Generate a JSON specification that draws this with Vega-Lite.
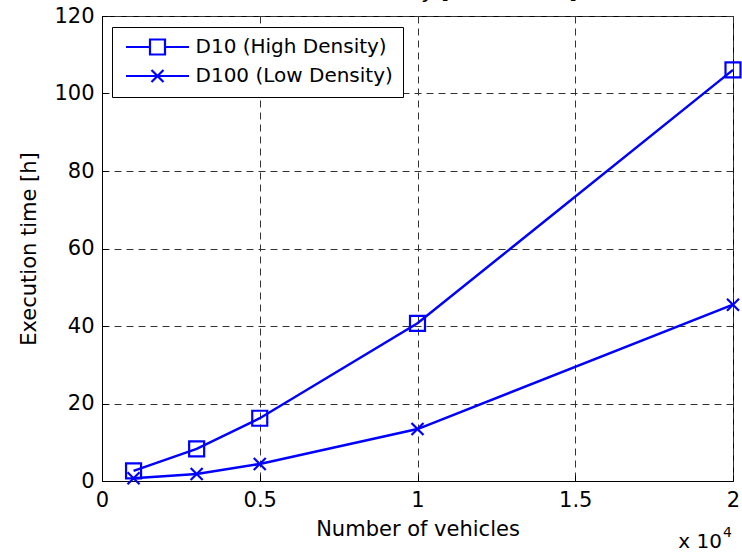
{
  "$schema": "https://vega.github.io/schema/vega-lite/v6.json",
  "width": 631,
  "height": 465,
  "autosize": {"type": "none"},
  "padding": {"left": 102, "top": 16, "right": 9, "bottom": 71},
  "background": "white",
  "config": {
    "font": "DejaVu Sans",
    "view": {"stroke": "black", "strokeWidth": 1},
    "legend": {"strokeWidth": 1},
    "axis": {
      "labelFont": "DejaVu Sans",
      "labelFontSize": 21,
      "labelColor": "black",
      "labelFlush": false,
      "titleFont": "DejaVu Sans",
      "titleFontSize": 21,
      "titleFontWeight": "normal",
      "titleColor": "black",
      "domainColor": "black",
      "domainWidth": 1,
      "ticks": true,
      "tickSize": -6,
      "tickColor": "black",
      "tickWidth": 1,
      "grid": true,
      "gridColor": "#333333",
      "gridDash": [7, 5],
      "gridWidth": 1,
      "gridOpacity": 1
    }
  },
  "data": {
    "values": [
      {"vehicles": 1000, "hours": 2.6, "series": "D10 (High Density)"},
      {"vehicles": 3000, "hours": 8.3, "series": "D10 (High Density)"},
      {"vehicles": 5000, "hours": 16.2, "series": "D10 (High Density)"},
      {"vehicles": 10000, "hours": 40.7, "series": "D10 (High Density)"},
      {"vehicles": 20000, "hours": 106.1, "series": "D10 (High Density)"},
      {"vehicles": 1000, "hours": 0.7, "series": "D100 (Low Density)"},
      {"vehicles": 3000, "hours": 1.8, "series": "D100 (Low Density)"},
      {"vehicles": 5000, "hours": 4.4, "series": "D100 (Low Density)"},
      {"vehicles": 10000, "hours": 13.4, "series": "D100 (Low Density)"},
      {"vehicles": 20000, "hours": 45.5, "series": "D100 (Low Density)"}
    ]
  },
  "resolve": {"scale": {"shape": "independent"}, "legend": {"shape": "independent"}},
  "layer": [
    {
      "mark": {"type": "line", "color": "#0000ff", "strokeWidth": 2.5},
      "encoding": {
        "x": {
          "field": "vehicles", "type": "quantitative",
          "scale": {"domain": [0, 20000], "nice": false, "zero": false},
          "axis": {
            "title": "Number of vehicles",
            "values": [0, 5000, 10000, 15000, 20000],
            "labelExpr": "format(datum.value / 10000, '~g')",
            "labelPadding": 14,
            "titlePadding": 8
          }
        },
        "y": {
          "field": "hours", "type": "quantitative",
          "scale": {"domain": [0, 120], "nice": false},
          "axis": {
            "title": "Execution time [h]",
            "values": [0, 20, 40, 60, 80, 100, 120],
            "labelPadding": 14,
            "titlePadding": 14
          }
        },
        "detail": {"field": "series", "type": "nominal"}
      }
    },
    {
      "mark": {"type": "point", "filled": false, "color": "#0000ff", "strokeWidth": 2.2, "size": 225, "opacity": 1},
      "encoding": {
        "x": {"field": "vehicles", "type": "quantitative"},
        "y": {"field": "hours", "type": "quantitative"},
        "shape": {
          "field": "series", "type": "nominal",
          "scale": {
            "domain": ["D10 (High Density)", "D100 (Low Density)"],
            "range": ["square", "M-0.8,-0.8L0.8,0.8M-0.8,0.8L0.8,-0.8"]
          },
          "legend": null
        }
      }
    },
    {
      "mark": {"type": "point", "filled": false, "color": "#0000ff", "strokeWidth": 2.2, "size": 0, "opacity": 1},
      "encoding": {
        "x": {"field": "vehicles", "type": "quantitative"},
        "y": {"field": "hours", "type": "quantitative"},
        "shape": {
          "field": "series", "type": "nominal",
          "scale": {
            "domain": ["D10 (High Density)", "D100 (Low Density)"],
            "range": ["M-4.2,0H-1M1,0H4.2M-1,-1H1V1H-1Z", "M-4.2,0H4.2M-0.8,-0.8L0.8,0.8M-0.8,0.8L0.8,-0.8"]
          },
          "legend": {
            "title": null,
            "orient": "none",
            "legendX": 10,
            "legendY": 11,
            "padding": 10,
            "fillColor": "white",
            "strokeColor": "black",
            "cornerRadius": 0,
            "labelFont": "DejaVu Sans",
            "labelFontSize": 20,
            "labelColor": "black",
            "labelLimit": 400,
            "labelOffset": 28,
            "symbolOffset": 25.5,
            "symbolSize": 225,
            "symbolStrokeWidth": 2.2,
            "symbolStrokeColor": "#0000ff",
            "symbolFillColor": "transparent",
            "rowPadding": 6
          }
        }
      }
    },
    {
      "data": {"values": [{"label": "Simulation Scalability [DTA model]"}]},
      "mark": {"type": "text", "align": "left", "baseline": "alphabetic", "font": "DejaVu Sans", "fontSize": 22, "color": "black", "dy": -18},
      "encoding": {
        "x": {"datum": 3000, "type": "quantitative"},
        "y": {"datum": 120, "type": "quantitative"},
        "text": {"field": "label", "type": "nominal"}
      }
    },
    {
      "data": {"values": [{"label": "x 10"}]},
      "mark": {"type": "text", "align": "right", "baseline": "alphabetic", "font": "DejaVu Sans", "fontSize": 20, "color": "black", "dx": -11, "dy": 67},
      "encoding": {
        "x": {"datum": 20000, "type": "quantitative"},
        "y": {"datum": 0, "type": "quantitative"},
        "text": {"field": "label", "type": "nominal"}
      }
    },
    {
      "data": {"values": [{"label": "4"}]},
      "mark": {"type": "text", "align": "left", "baseline": "alphabetic", "font": "DejaVu Sans", "fontSize": 14, "color": "black", "dx": -10, "dy": 56},
      "encoding": {
        "x": {"datum": 20000, "type": "quantitative"},
        "y": {"datum": 0, "type": "quantitative"},
        "text": {"field": "label", "type": "nominal"}
      }
    }
  ]
}
